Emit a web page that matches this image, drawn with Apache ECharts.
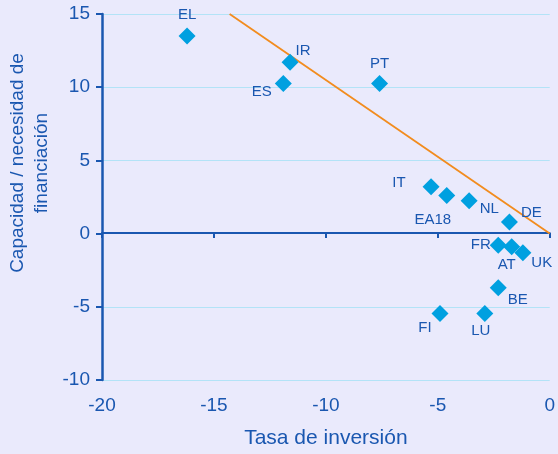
<!DOCTYPE html>
<html>
<head>
<meta charset="utf-8">
<script src="https://cdn.jsdelivr.net/npm/echarts@6/dist/echarts.min.js"></script>
<style>
  html, body { margin: 0; padding: 0; background: #eaeafc; }
  #chart { width: 558px; height: 454px; }
</style>
</head>
<body>
<div id="chart"></div>
<script>
// países y valores (tasa de inversión, capacidad/necesidad de financiación)
var countries = ["EL", "IR", "ES", "PT", "IT", "EA18", "NL", "DE", "FR", "AT", "UK", "BE", "FI", "LU"];
var inversion = [-16.2, -11.6, -11.9, -7.6, -5.3, -4.6, -3.6, -1.8, -2.3, -1.7, -1.2, -2.3, -4.9, -2.9];
var financiacion = [13.5, 11.7, 10.25, 10.25, 3.2, 2.6, 2.25, 0.8, -0.8, -0.9, -1.3, -3.7, -5.45, -5.45];
var labelPos = ["top", "right", "left", "top", "left", "bottom", "right", "right", "left", "bottom", "right", "right", "bottom", "bottom"];
var labelOffset = [[0, 1], [-9, -11], [3, 8], [0, 2], [-11, -4], [-14, 2], [-4, 8], [-3, -9], [7, 0], [-5, -4], [-6, 10], [-5, 12], [-15, -8], [-4, -5]];
// recta
var lineX = [-14.3, 0];
var lineY = [15, 0];

var blue = "#1a57b0";
var font = "Liberation Sans";
var chart = echarts.init(document.getElementById("chart"));

var points = [];
countries.forEach(function (c, i) {
  points.push({
    value: [inversion[i], financiacion[i]],
    name: c,
    label: { position: labelPos[i], offset: labelOffset[i] }
  });
});

var option = {
  backgroundColor: "#eaeafc",
  animation: false,
  grid: { left: 102, right: 6, top: 14, bottom: 73 },
  graphic: [
    {
      type: "text",
      x: 30,
      y: 163,
      rotation: Math.PI / 2,
      style: {
        text: "Capacidad / necesidad de\nfinanciación",
        fill: blue,
        font: "19px " + font,
        lineHeight: 24,
        align: "center",
        verticalAlign: "middle"
      }
    }
  ],
  xAxis: [
    {
      type: "value",
      min: -20,
      max: 0,
      interval: 5,
      name: "Tasa de inversión",
      nameLocation: "middle",
      nameGap: 48,
      nameTextStyle: { color: blue, fontSize: 21, fontFamily: font },
      axisLine: { onZero: false, show: false },
      axisTick: { show: false },
      axisLabel: { color: blue, fontSize: 19, fontFamily: font, margin: 16 },
      splitLine: { show: false }
    },
    {
      type: "value",
      min: -20,
      max: 0,
      interval: 5,
      position: "bottom",
      offset: -147,
      axisLine: { onZero: false, show: true, lineStyle: { color: blue, width: 2 } },
      axisTick: { show: true, length: 5, lineStyle: { color: blue, width: 2 } },
      axisLabel: { show: false },
      splitLine: { show: false }
    }
  ],
  yAxis: {
    type: "value",
    min: -10,
    max: 15,
    interval: 5,
    axisLine: { onZero: false, show: true, lineStyle: { color: blue, width: 2.5 } },
    axisTick: { show: true, length: 6, lineStyle: { color: blue, width: 2 } },
    axisLabel: { color: blue, fontSize: 19, fontFamily: font, margin: 12 },
    splitLine: { show: true, lineStyle: { color: "#b3e3f7", width: 1 } }
  },
  series: [
    {
      type: "line",
      data: [[lineX[0], lineY[0]], [lineX[1], lineY[1]]],
      symbol: "none",
      lineStyle: { color: "#f28c1e", width: 1.8 },
      z: 3
    },
    {
      type: "scatter",
      data: points,
      symbol: "diamond",
      symbolSize: 17,
      itemStyle: { color: "#00a0e0", opacity: 1 },
      label: {
        show: true,
        formatter: "{b}",
        color: blue,
        fontSize: 15,
        fontFamily: font,
        distance: 6
      },
      z: 4
    }
  ]
};
chart.setOption(option);
</script>
</body>
</html>
